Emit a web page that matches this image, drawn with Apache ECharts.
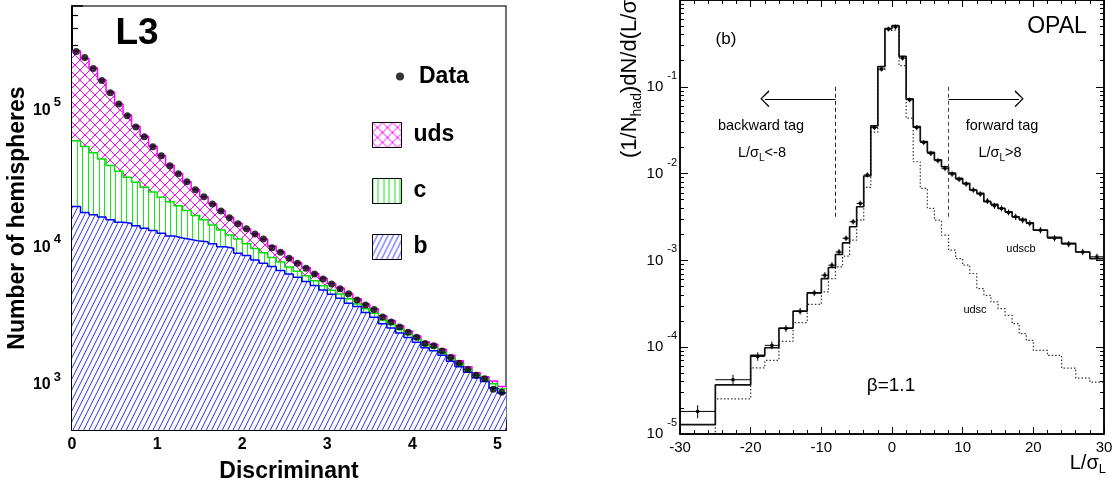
<!DOCTYPE html>
<html><head><meta charset="utf-8">
<script src="https://cdn.jsdelivr.net/npm/echarts@6/dist/echarts.min.js"></script>
<style>html,body{margin:0;padding:0;background:#fff}#c{width:1118px;height:490px}</style>
</head><body><div id="c"></div>
<script>
// ---------- Left panel (L3): Discriminant histogram, bins of 0.1 from 0 to 5.1 ----------
const discMin = 0;
const discBinWidth = 0.1;
const dataCounts = [270000, 244000, 203000, 166000, 135000, 112000, 92000, 76000, 64600, 54600,
  47000, 39700, 34700, 30300, 26500, 23600, 20900, 18600, 16600, 15000,
  13800, 12600, 11600, 10000, 9310, 8410, 7730, 7110, 6460, 5940,
  5460, 5030, 4620, 4170, 3840, 3560, 3130, 2880, 2650, 2430,
  2230, 2010, 1930, 1770, 1590, 1440, 1300, 1180, 1110, 931, 885];
const mcUdsCB = [272000, 240000, 205000, 168000, 137000, 112000, 93000, 77000, 65000, 55000,
  47200, 40000, 34800, 30400, 26600, 23600, 21000, 18700, 16700, 15100,
  13800, 12700, 11600, 10300, 9400, 8500, 7800, 7200, 6500, 6000,
  5500, 5100, 4650, 4250, 3900, 3600, 3200, 2950, 2700, 2480,
  2280, 2070, 1980, 1820, 1650, 1500, 1360, 1230, 1150, 1070, 975];
const mcCB = [60400, 54900, 49300, 44400, 39900, 36200, 32700, 30100, 27700, 25500,
  23400, 21700, 20300, 18700, 17200, 16000, 14700, 13500, 12400, 11600,
  10700, 9900, 9200, 8500, 7900, 7250, 6750, 6250, 5750, 5300,
  4900, 4600, 4250, 3900, 3600, 3340, 2980, 2760, 2550, 2340,
  2160, 1960, 1880, 1730, 1570, 1430, 1300, 1180, 1100, 1020, 935];
const mcB = [20000, 18100, 17400, 16800, 16000, 15400, 15100, 14500, 13900, 13400,
  12800, 12200, 11800, 11500, 11200, 11100, 10700, 10200, 9950, 9150,
  8790, 8170, 7730, 7300, 6830, 6460, 6110, 5680, 5310, 4940,
  4590, 4290, 3950, 3730, 3380, 3120, 2800, 2600, 2400, 2220,
  2050, 1870, 1780, 1650, 1490, 1360, 1240, 1130, 1060, 951, 875];

// ---------- Right panel (OPAL): L/sigma_L distribution ----------
const lsEdges = [-30, -25, -20, -18, -16, -14, -12, -10, -9, -8, -7, -6, -5, -4, -3, -2, -1, 0,
  1, 2, 3, 4, 5, 6, 7, 8, 9, 10, 11, 12, 13, 14, 15, 16, 17, 18, 19, 20, 22, 24, 26, 28, 30];
const lsUdscb = [1.28e-5, 3.69e-5, 8.04e-5, 9.86e-5, 1.66e-4, 2.61e-4, 4.22e-4, 6.18e-4, 8.28e-4, 1.17e-3,
  1.59e-3, 2.44e-3, 4.15e-3, 9.38e-3, 3.55e-2, 0.171, 0.468, 0.506, 0.224, 7.27e-2,
  3.48e-2, 2.34e-2, 1.76e-2, 1.44e-2, 1.20e-2, 1.01e-2, 8.82e-3, 7.73e-3, 6.47e-3, 5.93e-3,
  4.74e-3, 4.42e-3, 3.97e-3, 3.63e-3, 3.18e-3, 2.97e-3, 2.71e-3, 2.23e-3, 1.84e-3, 1.57e-3,
  1.25e-3, 1.05e-3];
const lsUdsc = [8e-6, 2.54e-5, 5.79e-5, 7.05e-5, 1.17e-4, 1.92e-4, 3.12e-4, 4.33e-4, 6.18e-4, 8.41e-4,
  1.12e-3, 1.71e-3, 2.91e-3, 6.95e-3, 3.00e-2, 0.157, 0.447, 0.455, 0.175, 4.35e-2,
  1.37e-2, 6.76e-3, 3.97e-3, 2.91e-3, 1.95e-3, 1.31e-3, 1.05e-3, 8.81e-4, 7.06e-4, 4.74e-4,
  3.96e-4, 3.32e-4, 2.78e-4, 2.33e-4, 1.87e-4, 1.43e-4, 1.20e-4, 9.19e-5, 8.04e-5, 5.74e-5,
  4.40e-5, 3.95e-5];
const lsData = [1.82e-5, 4.22e-5, 7.83e-5, 1.05e-4, 1.64e-4, 2.59e-4, 4.22e-4, 6.75e-4, 8.81e-4, 1.25e-3,
  1.80e-3, 2.79e-3, 4.54e-3, 9.64e-3, 3.39e-2, 0.160, 0.463, 0.489, 0.214, 7.08e-2,
  3.39e-2, 2.28e-2, 1.71e-2, 1.41e-2, 1.15e-2, 9.89e-3, 8.59e-3, 7.59e-3, 6.47e-3, 5.81e-3,
  4.83e-3, 4.26e-3, 3.97e-3, 3.57e-3, 3.18e-3, 2.91e-3, 2.67e-3, 2.23e-3, 1.80e-3, 1.54e-3,
  1.25e-3, 1.10e-3];
const lsDataRelErr = [0.12, 0.08, 0.06, 0.05, 0.04, 0.035, 0.03, 0.03, 0.025, 0.025,
  0.02, 0.02, 0.02, 0.015, 0.01, 0.01, 0.01, 0.01, 0.01, 0.01,
  0.015, 0.015, 0.02, 0.02, 0.02, 0.02, 0.02, 0.02, 0.02, 0.02,
  0.025, 0.025, 0.025, 0.025, 0.03, 0.03, 0.03, 0.03, 0.03, 0.03,
  0.03, 0.03];
const tagCut = 8;          // dashed cut lines at L/sigma = +-8
const tagArrowEnd = 18;    // arrows reach +-18
const tagArrowLevel = 0.0727;
const tagLineTop = 0.1, tagLineBottom = 3.15e-3;

// ---------- helpers ----------
const F = "'Liberation Sans', Arial, Helvetica, sans-serif";
const discEdges = [];
for (let i = 0; i <= dataCounts.length; i++) discEdges.push(+(discMin + i * discBinWidth).toFixed(3));
function histSteps(vals, ed) {
  const out = vals.map((v, i) => [ed[i], v]);
  out.push([ed[vals.length], vals[vals.length - 1]]);
  return out;
}
function makePattern(w, h, draw) {
  const cv = document.createElement('canvas');
  cv.width = w; cv.height = h;
  const ctx = cv.getContext('2d');
  ctx.fillStyle = '#ffffff'; ctx.fillRect(0, 0, w, h);
  draw(ctx, w, h);
  return { image: cv, repeat: 'repeat' };
}
const udsPattern = makePattern(10, 10, (ctx) => {
  ctx.strokeStyle = '#ff00ff'; ctx.lineWidth = 1;
  for (const o of [-10, 0, 10]) {
    ctx.beginPath(); ctx.moveTo(o - 2, -2); ctx.lineTo(o + 12, 12); ctx.stroke();
    ctx.beginPath(); ctx.moveTo(o + 12, -2); ctx.lineTo(o - 2, 12); ctx.stroke();
  }
});
const cPattern = makePattern(11, 4, (ctx) => {
  ctx.strokeStyle = '#11ee11'; ctx.lineWidth = 1;
  for (const x of [0.5, 5.5]) { ctx.beginPath(); ctx.moveTo(x, 0); ctx.lineTo(x, 4); ctx.stroke(); }
});
const bPattern = makePattern(16, 32, (ctx) => {
  ctx.strokeStyle = '#3030ff'; ctx.lineWidth = 1;
  for (let k = -4; k <= 10; k++) {
    const c = k * 32 / 3;
    ctx.beginPath(); ctx.moveTo(-2, c + 4); ctx.lineTo(18, c - 36); ctx.stroke();
  }
});
function powLabel(v) {
  const e = Math.round(Math.log10(v));
  if (Math.abs(v - Math.pow(10, e)) > 1e-6 * v) return '';
  return '{m|10}{s|' + e + '}';
}
const arrowPath = 'path://M0,10 L6,0 L12,10 L11,10.8 L6,2 L1,10.8 Z';
function txt(x, y, text, size, extra) {
  return Object.assign({ type: 'text', x: x, y: y, silent: true,
    style: Object.assign({ text: text, fontFamily: F, fontSize: size, fill: '#000',
      align: 'center', verticalAlign: 'middle', textAlign: 'center', textVerticalAlign: 'middle' }, extra || {}) });
}
const subRich = (fs) => ({ s: { fontFamily: F, fontSize: fs, lineHeight: fs, verticalAlign: 'bottom', fill: '#000', color: '#000' } });

const chart = echarts.init(document.getElementById('c'), null, { renderer: 'canvas' });
const option = {
  animation: false,
  backgroundColor: '#ffffff',
  grid: [
    { left: 72, top: 6, width: 434, height: 424, show: true, borderColor: '#444', borderWidth: 1.5, backgroundColor: 'transparent', outerBoundsMode: 'none', containLabel: false },
    { left: 680, top: 0, width: 424, height: 434, show: true, borderColor: '#000', borderWidth: 1.5, backgroundColor: 'transparent', outerBoundsMode: 'none', containLabel: false }
  ],
  legend: [
    { data: [{ name: 'Data', icon: 'circle', itemStyle: { color: '#000' } }], left: 391, top: 59, itemWidth: 8, itemHeight: 8, selectedMode: false,
      textStyle: { fontFamily: F, fontWeight: 'bold', fontSize: 23, color: '#000', lineHeight: 25, padding: [0, 0, 0, 10] } },
    { data: [
        { name: 'uds', icon: 'rect', itemStyle: { color: udsPattern, borderColor: '#000', borderWidth: 1 } },
        { name: 'c', icon: 'rect', itemStyle: { color: cPattern, borderColor: '#000', borderWidth: 1 } },
        { name: 'b', icon: 'rect', itemStyle: { color: bPattern, borderColor: '#000', borderWidth: 1 } }
      ],
      orient: 'vertical', left: 367, top: 117, itemWidth: 29, itemHeight: 25, itemGap: 30, selectedMode: false,
      textStyle: { fontFamily: F, fontWeight: 'bold', fontSize: 23, color: '#000', lineHeight: 25, padding: [0, 0, 0, 7] } }
  ],
  xAxis: [
    { gridIndex: 0, type: 'value', min: 0, max: 5.1, interval: 1, position: 'bottom',
      axisLine: { onZero: false, lineStyle: { color: '#000', width: 2 } },
      axisTick: { inside: true, length: 10, lineStyle: { color: '#000', width: 1.5 } },
      axisLabel: { margin: 7, fontFamily: F, fontWeight: 'bold', fontSize: 16, color: '#000',
        formatter: v => (Math.abs(v - Math.round(v)) < 1e-9 ? String(Math.round(v)) : '') },
      splitLine: { show: false },
      name: 'Discriminant', nameLocation: 'middle', nameGap: 30,
      nameTextStyle: { fontFamily: F, fontWeight: 'bold', fontSize: 23, color: '#000' } },
    { gridIndex: 1, type: 'value', min: -30, max: 30, interval: 10, position: 'bottom',
      axisLine: { onZero: false, lineStyle: { color: '#000', width: 1.5 } },
      axisTick: { inside: true, length: 7, lineStyle: { color: '#000', width: 1 } },
      minorTick: { show: true, splitNumber: 5, length: 4, lineStyle: { color: '#000', width: 1 } },
      axisLabel: { margin: 6, fontFamily: F, fontSize: 15, color: '#000' },
      splitLine: { show: false }, minorSplitLine: { show: false } },
    { gridIndex: 1, type: 'value', min: -30, max: 30, interval: 10, position: 'top',
      axisLine: { onZero: false, lineStyle: { color: '#000', width: 1.5 } },
      axisTick: { inside: true, length: 7, lineStyle: { color: '#000', width: 1 } },
      minorTick: { show: true, splitNumber: 5, length: 4, lineStyle: { color: '#000', width: 1 } },
      axisLabel: { show: false }, splitLine: { show: false }, minorSplitLine: { show: false } }
  ],
  yAxis: [
    { gridIndex: 0, type: 'log', logBase: 10, min: 470, max: 580000,
      axisLine: { onZero: false, lineStyle: { color: '#000', width: 2 } },
      axisTick: { inside: true, length: 11, lineStyle: { color: '#000', width: 1.5 } },
      minorTick: { show: true, splitNumber: 9, length: 6, lineStyle: { color: '#000', width: 1.2 } },
      axisLabel: { margin: 11, formatter: powLabel, showMinLabel: false, showMaxLabel: false,
        rich: { m: { fontFamily: F, fontWeight: 'bold', fontSize: 16, lineHeight: 29, color: '#000' },
                s: { fontFamily: F, fontWeight: 'bold', fontSize: 13, lineHeight: 13, verticalAlign: 'top', padding: [0, 0, 0, 3], color: '#000' } } },
      splitLine: { show: false }, minorSplitLine: { show: false },
      name: 'Number of hemispheres', nameLocation: 'middle', nameGap: 42,
      nameTextStyle: { fontFamily: F, fontWeight: 'bold', fontSize: 23, color: '#000' } },
    { gridIndex: 1, type: 'log', logBase: 10, min: 1e-5, max: 1,
      axisLine: { onZero: false, lineStyle: { color: '#000', width: 1.5 } },
      axisTick: { inside: true, length: 8, lineStyle: { color: '#000', width: 1 } },
      minorTick: { show: true, splitNumber: 9, length: 4, lineStyle: { color: '#000', width: 1 } },
      axisLabel: { margin: 3, formatter: powLabel, showMaxLabel: false,
        rich: { m: { fontFamily: F, fontSize: 15, lineHeight: 33, color: '#000' },
                s: { fontFamily: F, fontSize: 11, lineHeight: 11, verticalAlign: 'top', padding: [0, 0, 0, 4], color: '#000' } } },
      splitLine: { show: false }, minorSplitLine: { show: false } },
    { gridIndex: 1, type: 'log', logBase: 10, min: 1e-5, max: 1, position: 'right',
      axisLine: { onZero: false, lineStyle: { color: '#000', width: 1.5 } },
      axisTick: { inside: true, length: 8, lineStyle: { color: '#000', width: 1 } },
      minorTick: { show: true, splitNumber: 9, length: 4, lineStyle: { color: '#000', width: 1 } },
      axisLabel: { show: false }, splitLine: { show: false }, minorSplitLine: { show: false } }
  ],
  series: [
    { name: 'uds', type: 'line', xAxisIndex: 0, yAxisIndex: 0, step: 'end', symbol: 'none', z: 2, silent: true,
      data: histSteps(mcUdsCB, discEdges), itemStyle: { color: '#ff00ff' },
      lineStyle: { color: '#ff00ff', width: 1.5 }, areaStyle: { color: udsPattern, origin: 'start', opacity: 1 } },
    { name: 'c', type: 'line', xAxisIndex: 0, yAxisIndex: 0, step: 'end', symbol: 'none', z: 3, silent: true,
      data: histSteps(mcCB, discEdges), itemStyle: { color: '#00ee00' },
      lineStyle: { color: '#00e000', width: 1.5 }, areaStyle: { color: cPattern, origin: 'start', opacity: 1 } },
    { name: 'b', type: 'line', xAxisIndex: 0, yAxisIndex: 0, step: 'end', symbol: 'none', z: 4, silent: true,
      data: histSteps(mcB, discEdges), itemStyle: { color: '#0000ff' },
      lineStyle: { color: '#0000ff', width: 1.5 }, areaStyle: { color: bPattern, origin: 'start', opacity: 1 } },
    { name: 'Data', type: 'scatter', xAxisIndex: 0, yAxisIndex: 0, z: 6, symbol: 'circle', symbolSize: 7, silent: true,
      itemStyle: { color: '#000' },
      data: dataCounts.map((v, i) => [(discEdges[i] + discEdges[i + 1]) / 2, v]) },

    { name: 'udsc', type: 'line', xAxisIndex: 1, yAxisIndex: 1, step: 'end', symbol: 'none', z: 3, silent: true, clip: true,
      data: histSteps(lsUdsc, lsEdges), lineStyle: { color: '#333', width: 1.2, type: [1.5, 2] } },
    { name: 'udscb', type: 'line', xAxisIndex: 1, yAxisIndex: 1, step: 'end', symbol: 'none', z: 4, silent: true, clip: true,
      data: histSteps(lsUdscb, lsEdges), lineStyle: { color: '#111', width: 1.7 },
      markLine: { silent: true, animation: false, label: { show: false }, symbol: 'none',
        data: [
          [{ coord: [-tagCut, tagLineTop], lineStyle: { type: [4, 3], color: '#222', width: 1 } }, { coord: [-tagCut, tagLineBottom] }],
          [{ coord: [tagCut, tagLineTop], lineStyle: { type: [4, 3], color: '#444', width: 1 } }, { coord: [tagCut, tagLineBottom] }],
          [{ coord: [-tagCut, tagArrowLevel], symbol: 'none', lineStyle: { type: 'solid', color: '#000', width: 1 } },
           { coord: [-tagArrowEnd, tagArrowLevel], symbol: arrowPath, symbolSize: [17, 9] }],
          [{ coord: [tagCut, tagArrowLevel], symbol: 'none', lineStyle: { type: 'solid', color: '#000', width: 1 } },
           { coord: [tagArrowEnd, tagArrowLevel], symbol: arrowPath, symbolSize: [17, 9] }]
        ] } },
    { name: 'OPAL data', type: 'custom', xAxisIndex: 1, yAxisIndex: 1, z: 5, silent: true, clip: true,
      data: lsData.map((v, i) => [lsEdges[i], lsEdges[i + 1], v, lsDataRelErr[i]]),
      encode: { x: [0, 1], y: 2 },
      renderItem: (params, api) => {
        const xl = api.value(0), xr = api.value(1), v = api.value(2), e = api.value(3);
        const xc = (xl + xr) / 2;
        const pL = api.coord([xl, v]), pR = api.coord([xr, v]);
        const pT = api.coord([xc, v * (1 + e)]), pB = api.coord([xc, v * (1 - e)]);
        const pC = api.coord([xc, v]);
        return { type: 'group', children: [
          { type: 'line', shape: { x1: pL[0], y1: pL[1], x2: pR[0], y2: pR[1] }, style: { stroke: '#000', lineWidth: 1 } },
          { type: 'line', shape: { x1: pC[0], y1: pT[1] - 2, x2: pC[0], y2: pB[1] + 2 }, style: { stroke: '#000', lineWidth: 1 } },
          { type: 'rect', shape: { x: pC[0] - 1.5, y: pC[1] - 1.5, width: 3, height: 3 }, style: { fill: '#000' } }
        ] };
      } }
  ],
  graphic: [
    txt(137, 34, 'L3', 37, { fontWeight: 'bold' }),
    txt(726, 39, '(b)', 17),
    txt(1057, 27, 'OPAL', 23),
    txt(761, 126, 'backward tag', 14.5),
    txt(762, 153, 'L/σ{s|L}<-8', 14.5, { lineHeight: 20, rich: subRich(10) }),
    txt(1002, 126, 'forward tag', 14.5),
    txt(1000, 153, 'L/σ{s|L}>8', 14.5, { lineHeight: 20, rich: subRich(10) }),
    txt(1021, 249, 'udscb', 11),
    txt(975, 310, 'udsc', 11),
    txt(891, 386, 'β=1.1', 19),
    txt(1106, 463, 'L/σ{s|L}', 20, { align: 'right', textAlign: 'right', lineHeight: 26, rich: subRich(13) }),
    Object.assign(txt(630, 158, '(1/N{s|had})dN/d(L/σ{s|L})', 22,
      { align: 'left', textAlign: 'left', lineHeight: 28, rich: subRich(14) }), { rotation: Math.PI / 2 })
  ]
};
chart.setOption(option);
</script></body></html>
